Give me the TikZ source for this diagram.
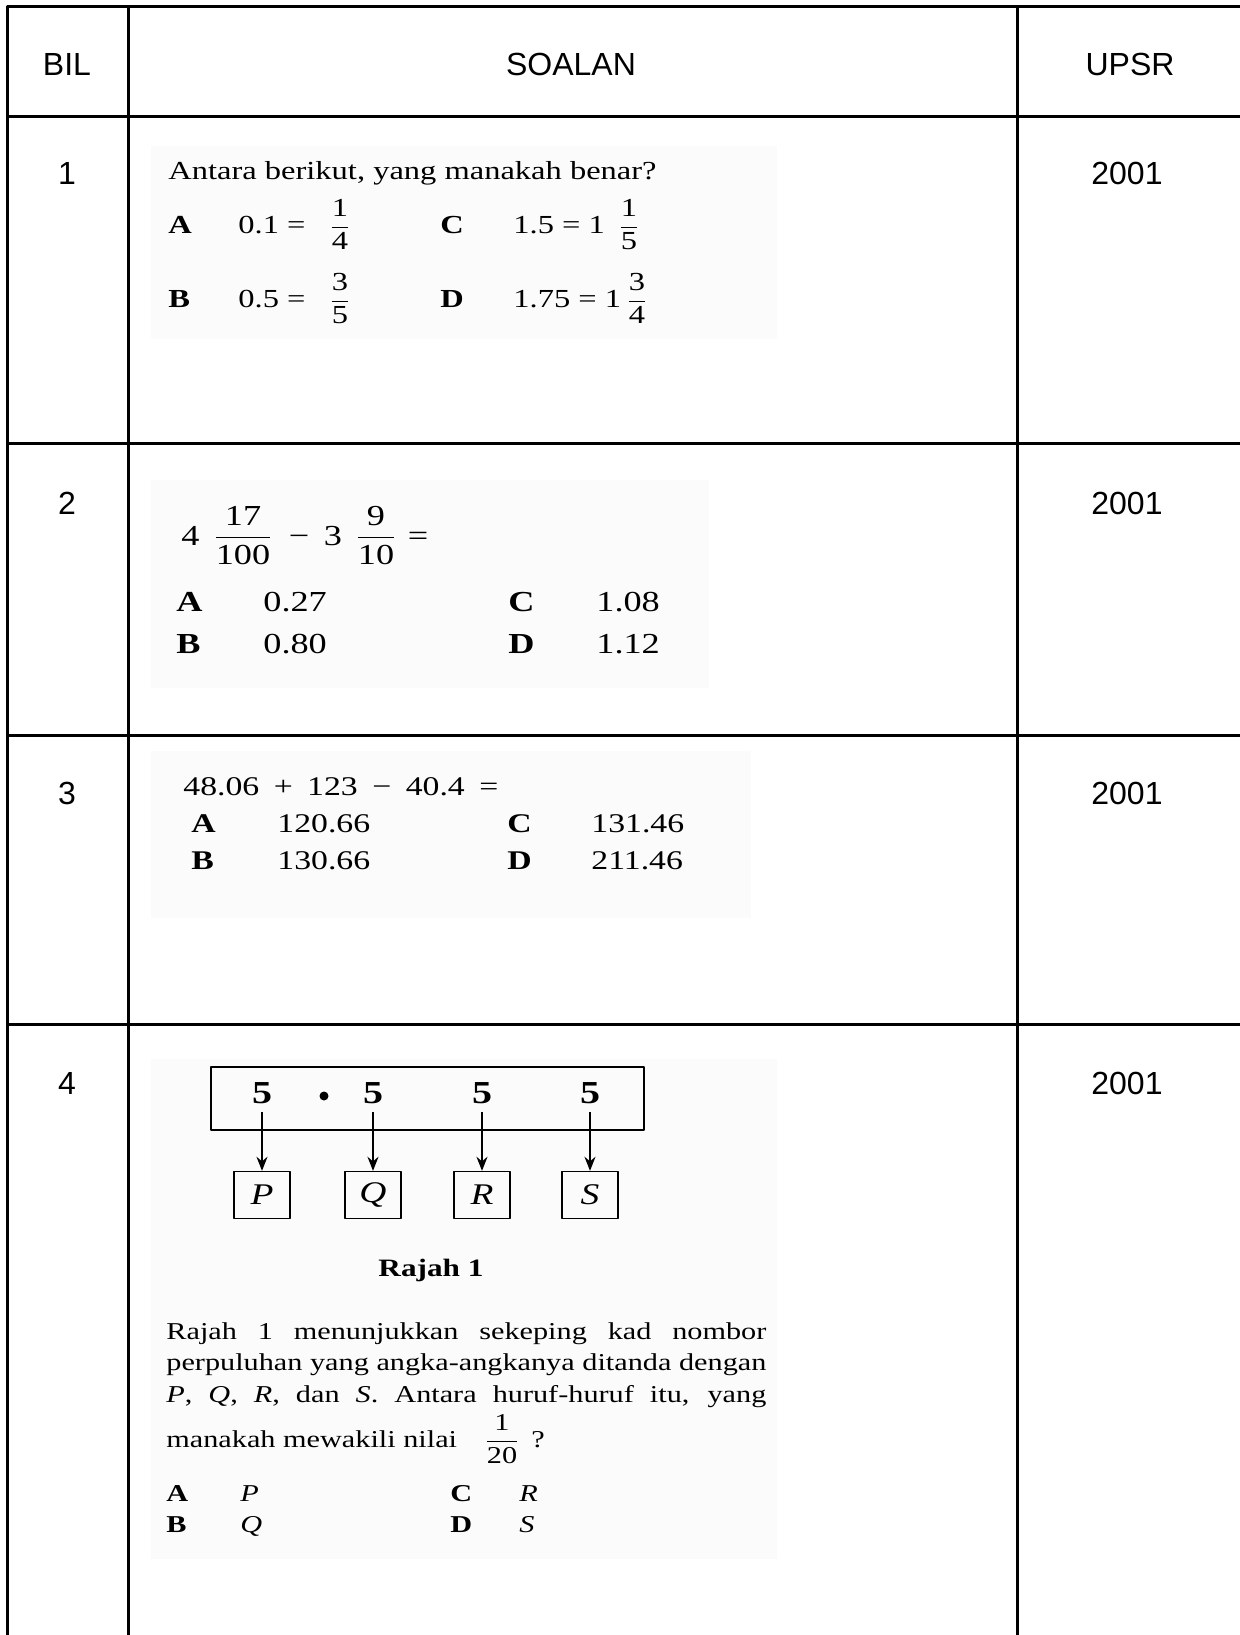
\documentclass[tikz,border=0pt]{standalone}
\usepackage{fontspec}
\setmainfont{Liberation Serif}
\newfontfamily\scanfont[FakeStretch=1.25]{Liberation Serif}
\newfontfamily\headfont{Liberation Sans}
\usetikzlibrary{positioning,arrows.meta}
\newcommand\fr[2]{$\displaystyle\frac{\mbox{#1}}{\mbox{#2}}$}
\tikzset{
  tabline/.style={line width=1.5pt},
  scanbg/.style={fill=black!1.5},
  headtxt/.style={font=\headfont\fontsize{16}{18}\selectfont},
  txt/.style={inner sep=0pt, anchor=base west},
  frc/.style={inner sep=0pt, anchor=base},
  qone/.style={font=\scanfont\fontsize{13}{15}\selectfont},
  qtwo/.style={font=\scanfont\fontsize{14.5}{17}\selectfont},
  qthree/.style={font=\scanfont\fontsize{13.5}{16}\selectfont},
  qfour/.style={font=\scanfont\fontsize{12.1}{14}\selectfont},
  digit/.style={inner sep=0pt, font=\scanfont\bfseries\fontsize{16}{18}\selectfont},
  lbox/.style={draw, line width=0.7pt, minimum width=28pt, minimum height=23.5pt,
    inner sep=0pt, font=\scanfont\itshape\fontsize{15}{17}\selectfont}
}
\begin{document}
\begin{tikzpicture}[x=0.5pt, y=-0.5pt, >={Stealth[length=7pt,width=5.5pt]}, line join=round]
\useasboundingbox (0,0) rectangle (1240,1635);
% scanned parts
\fill[scanbg] (151,146) rectangle (777,339);
\fill[scanbg] (151,480) rectangle (709,688);
\fill[scanbg] (151,751) rectangle (751,918);
\fill[scanbg] (151,1059) rectangle (777,1559);
% table
\draw[tabline] (1240,6) -| (7,1635);
\draw[tabline] (128,6) -- (128,1635) (1017,6) -- (1017,1635);
\foreach \y in {116,443,735,1024}
  \draw[tabline] (7,\y) -- (1240,\y);
\node[headtxt] (bil) at (67,64) {BIL};
\node[headtxt] (soalan) at (571,64) {SOALAN};
\node[headtxt] (upsr) at (1130,64) {UPSR};
\foreach \n/\y in {1/173,2/503,3/793,4/1083}{
  \node[headtxt] (no\n) at (67,\y) {\n};
  \node[headtxt] (yr\n) at (1127,\y) {2001};
}

% soalan 1
\node[txt,qone] (q1) at (168,179) {Antara berikut, yang manakah benar?};
\node[txt,qone] (q1a) at (168,233) {\textbf{A}};
\node[txt,qone] (q1ax) at (238,233) {0.1 =};
\node[frc,qone] (q1af) at (340,233) {\fr{1}{4}};
\node[txt,qone] (q1c) at (440,233) {\textbf{C}};
\node[txt,qone] (q1cx) at (513,233) {1.5 = 1};
\node[frc,qone] (q1cf) at (629,233) {\fr{1}{5}};
\node[txt,qone] (q1b) at (168,307) {\textbf{B}};
\node[txt,qone] (q1bx) at (238,307) {0.5 =};
\node[frc,qone] (q1bf) at (340,307) {\fr{3}{5}};
\node[txt,qone] (q1d) at (440,307) {\textbf{D}};
\node[txt,qone] (q1dx) at (513,307) {1.75 = 1};
\node[frc,qone] (q1df) at (637,307) {\fr{3}{4}};

% soalan 2
\node[txt,qtwo] (q2i) at (181,545) {4};
\node[frc,qtwo] (q2f1) at (243,545) {\fr{17}{100}};
\node[frc,qtwo] (q2m) at (299,545) {−};
\node[frc,qtwo] (q2ii) at (333,545) {3};
\node[frc,qtwo] (q2f2) at (376,545) {\fr{9}{10}};
\node[frc,qtwo] (q2eq) at (418,545) {=};
\node[txt,qtwo] (q2a) at (176,611) {\textbf{A}};
\node[txt,qtwo] (q2ax) at (263,611) {0.27};
\node[txt,qtwo] (q2c) at (508,611) {\textbf{C}};
\node[txt,qtwo] (q2cx) at (596,611) {1.08};
\node[txt,qtwo] (q2b) at (176,653) {\textbf{B}};
\node[txt,qtwo] (q2bx) at (263,653) {0.80};
\node[txt,qtwo] (q2d) at (508,653) {\textbf{D}};
\node[txt,qtwo] (q2dx) at (596,653) {1.12};

% soalan 3
\node[txt,qthree] (q3) at (183,795) {48.06\hspace{3pt} + \hspace{3pt}123\hspace{3pt} − \hspace{3pt}40.4\hspace{3pt} =};
\node[txt,qthree] (q3a) at (191,832) {\textbf{A}};
\node[txt,qthree] (q3ax) at (277,832) {120.66};
\node[txt,qthree] (q3c) at (507,832) {\textbf{C}};
\node[txt,qthree] (q3cx) at (591,832) {131.46};
\node[txt,qthree] (q3b) at (191,869) {\textbf{B}};
\node[txt,qthree] (q3bx) at (277,869) {130.66};
\node[txt,qthree] (q3d) at (507,869) {\textbf{D}};
\node[txt,qthree] (q3dx) at (591,869) {211.46};

% soalan 4
\node[draw, line width=1pt, minimum width=216.5pt, minimum height=31.5pt] (card) at (427.5,1098.5) {};
\node[circle, fill, inner sep=0pt, minimum size=4.5pt] (dot) at (324,1096) {};
\foreach \i/\x/\l in {1/262/P,2/373/Q,3/482/R,4/590/S}{
  \node[digit] (d\i) at (\x,1093) {5};
  \node[lbox] (b\l) at (\x,1195) {\l};
  \draw[->, line width=0.9pt, shorten <=4pt] (d\i.south) -- (b\l.north);
}
\node[font=\scanfont\bfseries\fontsize{12.5}{14}\selectfont] (rajah) at (431,1270) {Rajah 1};
\node[txt,qfour] (p1) at (166,1339) {\makebox[300pt][s]{Rajah 1 menunjukkan sekeping kad nombor}};
\node[txt,qfour] (p2) at (166,1370) {\makebox[300pt][s]{perpuluhan yang angka-angkanya ditanda dengan}};
\node[txt,qfour] (p3) at (166,1402) {\makebox[300pt][s]{\textit{P}, \textit{Q}, \textit{R}, dan \textit{S}. Antara huruf-huruf itu, yang}};
\node[txt,qfour] (p4) at (166,1447) {manakah mewakili nilai};
\node[frc,qfour] (p4f) at (502,1447) {\fr{1}{20}};
\node[txt,qfour] (p4q) at (531,1447) {?};
\node[txt,qfour] (q4a) at (166,1501) {\textbf{A}};
\node[txt,qfour] (q4ax) at (240,1501) {\textit{P}};
\node[txt,qfour] (q4c) at (450,1501) {\textbf{C}};
\node[txt,qfour] (q4cx) at (519,1501) {\textit{R}};
\node[txt,qfour] (q4b) at (166,1532) {\textbf{B}};
\node[txt,qfour] (q4bx) at (240,1532) {\textit{Q}};
\node[txt,qfour] (q4d) at (450,1532) {\textbf{D}};
\node[txt,qfour] (q4dx) at (519,1532) {\textit{S}};
\end{tikzpicture}
\end{document}
